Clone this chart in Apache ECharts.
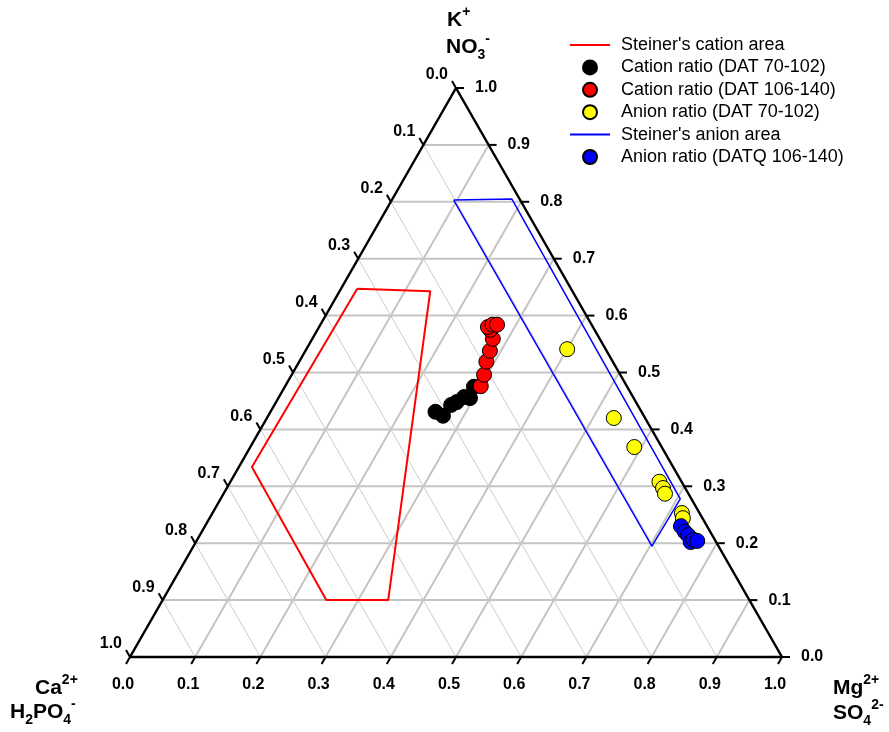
<!DOCTYPE html>
<html>
<head>
<meta charset="utf-8">
<script src="https://cdn.jsdelivr.net/npm/echarts@6/dist/echarts.min.js"></script>
<style>
  html, body { margin: 0; padding: 0; background: #fff; }
  #chart { width: 889px; height: 732px; }
</style>
</head>
<body>
<div id="chart"></div>
<script>
// Ternary diagram of cation (K+ / Ca2+ / Mg2+) and anion (NO3- / H2PO4- / SO4 2-) ratios.
// Every composition is written as [top fraction, right fraction]; the left fraction is the remainder.

const tickValues = [0, 0.1, 0.2, 0.3, 0.4, 0.5, 0.6, 0.7, 0.8, 0.9, 1];
const tickLabels = ['0.0', '0.1', '0.2', '0.3', '0.4', '0.5', '0.6', '0.7', '0.8', '0.9', '1.0'];

const steinerCationArea = [[0.647, 0.025], [0.643, 0.139], [0.100, 0.346], [0.100, 0.251], [0.334, 0.020]];
const steinerAnionArea = [[0.803, 0.095], [0.805, 0.183], [0.278, 0.705], [0.195, 0.703]];

const cationDat70to102 = [
  [0.431, 0.253], [0.424, 0.268], [0.443, 0.271], [0.448, 0.277],
  [0.457, 0.284], [0.455, 0.294], [0.475, 0.290]
];
const cationDat106to140 = [
  [0.476, 0.300], [0.496, 0.295], [0.519, 0.287], [0.538, 0.283], [0.559, 0.277],
  [0.575, 0.265], [0.580, 0.259], [0.584, 0.264], [0.584, 0.271]
];
const anionDat70to102 = [
  [0.541, 0.400], [0.420, 0.532], [0.369, 0.589], [0.308, 0.658],
  [0.297, 0.669], [0.287, 0.677], [0.253, 0.720], [0.244, 0.726]
];
const anionDatq106to140 = [
  [0.230, 0.730], [0.220, 0.741], [0.214, 0.749], [0.202, 0.759], [0.206, 0.761], [0.204, 0.768]
];

const FONT = '"Liberation Sans", Arial, Helvetica, sans-serif';

// [top, right] fractions -> plane coordinates (x along the base, y = top fraction)
function toXY(p) { return [p[1] + p[0] / 2, p[0]]; }
function closed(poly) { return poly.concat([poly[0]]).map(toXY); }

// grid lines, one family per triangle side
const innerTicks = tickValues.slice(1, -1);
const hLines = innerTicks.map(v => [toXY([v, 0]), toXY([v, 1 - v])]);          // constant top fraction
const rLines = innerTicks.map(v => [toXY([0, v]), toXY([1 - v, v])]);          // constant right fraction
const lLines = innerTicks.map(v => [toXY([1 - v, 0]), toXY([0, 1 - v])]);      // constant left fraction

function gridSeries(lines, color, width) {
  return {
    type: 'custom', silent: true, z: 1,
    data: lines.map(l => [l[0][0], l[0][1], l[1][0], l[1][1]]),
    renderItem(params, api) {
      const a = api.coord([api.value(0), api.value(1)]);
      const b = api.coord([api.value(2), api.value(3)]);
      return { type: 'line', shape: { x1: a[0], y1: a[1], x2: b[0], y2: b[1] },
               style: { stroke: color, lineWidth: width } };
    }
  };
}

function axisSeries(points, dx, dy, lx, ly, align) {
  return {
    type: 'custom', silent: true, z: 6,
    data: points.map(toXY),
    renderItem(params, api) {
      const p = api.coord([api.value(0), api.value(1)]);
      return {
        type: 'group',
        children: [
          { type: 'line', shape: { x1: p[0], y1: p[1], x2: p[0] + dx, y2: p[1] + dy },
            style: { stroke: '#000', lineWidth: 2 } },
          { type: 'text', x: p[0] + lx, y: p[1] + ly,
            style: { text: tickLabels[params.dataIndex], font: 'bold 16px ' + FONT, fill: '#000',
                     textAlign: align, textVerticalAlign: 'middle' } }
        ]
      };
    }
  };
}

const TL = 8;
const rightAxis = tickValues.map(v => [v, 1 - v]);
const bottomAxis = tickValues.map(v => [0, v]);
const leftAxis = tickValues.map(v => [1 - v, 0]);

const rich = {
  m: { fontSize: 21, fontWeight: 'bold', fontFamily: FONT, lineHeight: 30, verticalAlign: 'middle', fill: '#000' },
  sup: { fontSize: 14, fontWeight: 'bold', fontFamily: FONT, lineHeight: 13, verticalAlign: 'top', fill: '#000' },
  sub: { fontSize: 14, fontWeight: 'bold', fontFamily: FONT, lineHeight: 13, verticalAlign: 'bottom', fill: '#000' }
};
function vertexLabel(text, left, top) {
  return { type: 'text', left, top, z: 10, style: { text, rich, fill: '#000' } };
}

function scatter(name, data, color) {
  return {
    name, type: 'scatter', z: 8, data: data.map(toXY), symbol: 'circle', symbolSize: 15,
    itemStyle: { color, borderColor: '#000', borderWidth: 1, opacity: 1 }
  };
}
function area(name, poly, color, width) {
  return {
    name, type: 'line', z: 4, data: closed(poly), symbol: 'none', showSymbol: false,
    lineStyle: { color, width }, itemStyle: { color }, clip: false
  };
}

const lineIcon = 'path://M0,0H40V2H0Z';

const option = {
  animation: false,
  grid: { left: 130, top: 88, width: 652, height: 569 },
  xAxis: { type: 'value', min: 0, max: 1, show: false },
  yAxis: { type: 'value', min: 0, max: 1, show: false },
  legend: {
    orient: 'vertical', left: 565, top: 31, itemWidth: 40, itemHeight: 14, itemGap: 4.4,
    textStyle: { fontSize: 18, fontFamily: FONT, color: '#000', padding: [0, 0, 0, 6] },
    data: [
      { name: "Steiner's cation area", icon: lineIcon },
      { name: 'Cation ratio (DAT 70-102)', icon: 'circle' },
      { name: 'Cation ratio (DAT 106-140)', icon: 'circle' },
      { name: 'Anion ratio (DAT 70-102)', icon: 'circle' },
      { name: "Steiner's anion area", icon: lineIcon },
      { name: 'Anion ratio (DATQ 106-140)', icon: 'circle' }
    ]
  },
  graphic: [
    vertexLabel('{m|K}{sup|+}', 447, 5),
    vertexLabel('{m|NO}{sub|3}{sup|-}', 446, 32),
    vertexLabel('{m|Ca}{sup|2+}', 35, 673),
    vertexLabel('{m|H}{sub|2}{m|PO}{sub|4}{sup|-}', 10, 697),
    vertexLabel('{m|Mg}{sup|2+}', 833, 673),
    vertexLabel('{m|SO}{sub|4}{sup|2-}', 833, 698)
  ],
  series: [
    gridSeries(hLines, '#c4c4c4', 2),
    gridSeries(rLines, '#c4c4c4', 2),
    gridSeries(lLines, '#cccccc', 1),
    {
      type: 'line', silent: true, z: 5, symbol: 'none', clip: false,
      data: closed([[0, 0], [0, 1], [1, 0]]),
      lineStyle: { color: '#000', width: 2.5 }
    },
    axisSeries(rightAxis, TL, 0, 19, 0, 'left'),
    axisSeries(bottomAxis, -TL * 0.5, TL * 0.866, -7, 28, 'center'),
    axisSeries(leftAxis, -TL * 0.5, -TL * 0.866, -8, -13, 'right'),
    area("Steiner's cation area", steinerCationArea, '#ff0000', 2),
    area("Steiner's anion area", steinerAnionArea, '#0000ff', 1.5),
    scatter('Cation ratio (DAT 70-102)', cationDat70to102, '#000000'),
    scatter('Cation ratio (DAT 106-140)', cationDat106to140, '#ff0000'),
    scatter('Anion ratio (DAT 70-102)', anionDat70to102, '#ffff00'),
    scatter('Anion ratio (DATQ 106-140)', anionDatq106to140, '#0000ff')
  ]
};

const chart = echarts.init(document.getElementById('chart'), null, { renderer: 'canvas' });
chart.setOption(option);
</script>
</body>
</html>
